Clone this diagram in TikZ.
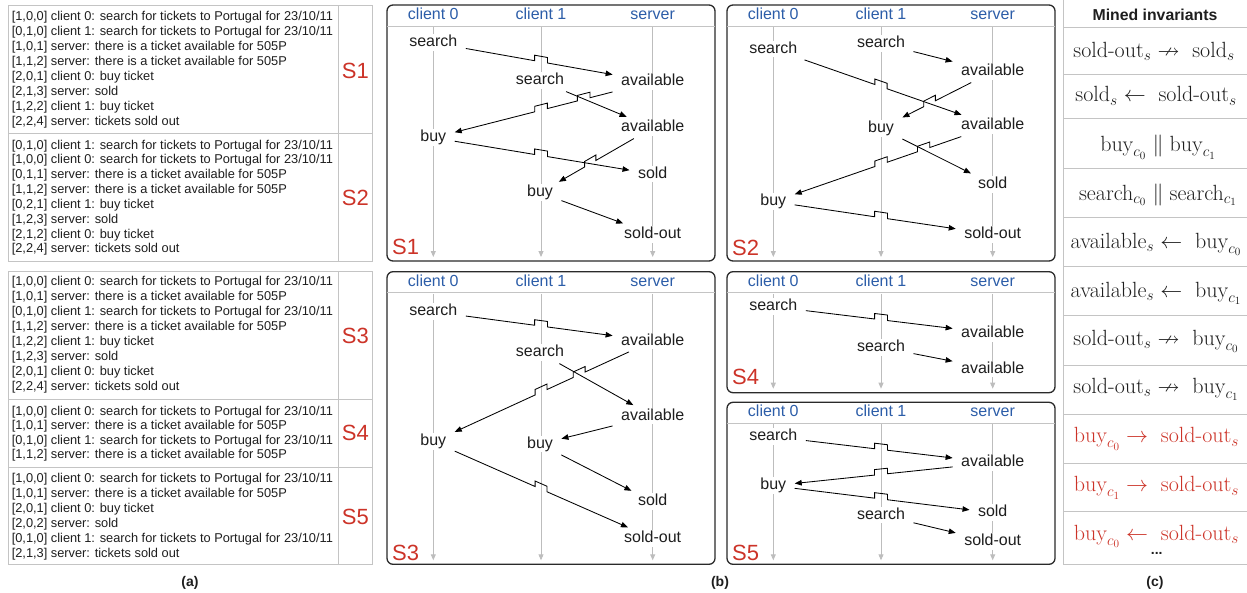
\RequirePackage{fix-cm}
\documentclass[tikz,border=0pt]{standalone}
\usepackage{amssymb}
\usepackage{fontspec}
\newfontfamily\arial{Liberation Sans}
\usetikzlibrary{calc,arrows.meta}
\definecolor{sred}{HTML}{CC3328}
\definecolor{hblue}{HTML}{2C5DA8}
\definecolor{lgray}{HTML}{BDBDBD}
\definecolor{tgray}{HTML}{C4C4C4}
\definecolor{boxc}{HTML}{2A2A2A}
\definecolor{txt}{HTML}{1E1E1E}
\tikzset{
  ev/.style={font=\arial\fontsize{16}{18}\selectfont, text=txt, fill=white, inner sep=1pt,
    outer xsep=7.5pt, outer ysep=2.5pt, text height=11.5pt, text depth=3.3pt},
  hd/.style={font=\arial\fontsize{16}{18}\selectfont, text=hblue, inner sep=4pt,
    text height=11.5pt, text depth=3.3pt},
  slab/.style={font=\arial\fontsize{22}{24}\selectfont, text=sred, inner sep=0},
  logl/.style={font=\arial\fontsize{12.8}{15}\selectfont, text=txt, anchor=base west, inner sep=0},
  msg/.style={draw=black, line width=0.85pt, -{Triangle[length=7pt,width=5.5pt]}},
  life/.style={draw=lgray, line width=0.9pt, -{Triangle[length=6pt,width=5pt]}},
  box/.style={draw=boxc, line width=1.3pt, rounded corners=6pt},
  hline/.style={draw=tgray, line width=1pt},
  tline/.style={draw=tgray, line width=1pt},
  captxt/.style={font=\arial\bfseries\fontsize{14}{16}\selectfont, text=txt},
  inv/.style={anchor=base, font=\fontsize{22}{25}\selectfont, inner sep=0, text=txt},
  rinv/.style={inv, text=sred}
}
\newcommand{\seqframe}[4]{%
  \draw[box] (387+#2,#3) rectangle (715+#2,#4);
  \draw[hline] (387+#2,#3+21) -- (715+#2,#3+21);
  \node[hd] (#1h0) at (433.3+#2,#3+10.5) {client 0};
  \node[hd] (#1h1) at (541+#2,#3+10.5) {client 1};
  \node[hd] (#1h2) at (652.7+#2,#3+10.5) {server};
  \coordinate (#1e0) at (433.3+#2,#4-4);
  \coordinate (#1e1) at (541+#2,#4-4);
  \coordinate (#1e2) at (652.7+#2,#4-4);
  \draw[life] (#1h0) -- (#1e0);
  \draw[life] (#1h1) -- (#1e1);
  \draw[life] (#1h2) -- (#1e2);
}
\newcommand{\mj}[3]{%
  \draw[msg] (#1)
    -- ($(#1)!#3!(#2)!6.5pt!(#1)$)
    -- ($(#1)!#3!(#2)!6.5pt!(#1)+(0,-5.5)$)
    -- ($(#1)!#3!(#2)!6.5pt!(#2)+(0,-5.5)$)
    -- ($(#1)!#3!(#2)!6.5pt!(#2)$)
    -- (#2);}
\newcommand{\mjj}[4]{%
  \draw[msg] (#1)
    -- ($(#1)!#3!(#2)!6.5pt!(#1)$)
    -- ($(#1)!#3!(#2)!6.5pt!(#1)+(0,-5.5)$)
    -- ($(#1)!#3!(#2)!6.5pt!(#2)+(0,-5.5)$)
    -- ($(#1)!#3!(#2)!6.5pt!(#2)$)
    -- ($(#1)!#4!(#2)!6.5pt!(#1)$)
    -- ($(#1)!#4!(#2)!6.5pt!(#1)+(0,-5.5)$)
    -- ($(#1)!#4!(#2)!6.5pt!(#2)+(0,-5.5)$)
    -- ($(#1)!#4!(#2)!6.5pt!(#2)$)
    -- (#2);}
\newcommand{\logblock}[4]{%
  \foreach \t [count=\i] in {#4} {\node[logl] (#1\i) at (11.6,#2+#3*\i-#3) {\t};}}
\begin{document}
\begin{tikzpicture}[x=1pt,y=-1pt]
\useasboundingbox (0,0) rectangle (1247,592);
% ---------- panel (a)
\draw[tline] (8.3,5) rectangle (372.3,261);
\draw[tline] (338.3,5) -- (338.3,261);
\draw[tline] (8.3,133) -- (372.3,133);
\draw[tline] (8.3,271) rectangle (372.3,564);
\draw[tline] (338.3,271) -- (338.3,564);
\draw[tline] (8.3,399) -- (372.3,399);
\draw[tline] (8.3,467) -- (372.3,467);
\logblock{la}{20}{15}{{[1,0,0] client 0: search for tickets to Portugal for 23/10/11},{[0,1,0] client 1: search for tickets to Portugal for 23/10/11},{[1,0,1] server: there is a ticket available for 505P},{[1,1,2] server: there is a ticket available for 505P},{[2,0,1] client 0: buy ticket},{[2,1,3] server: sold},{[1,2,2] client 1: buy ticket},{[2,2,4] server: tickets sold out}}
\logblock{lb}{149}{14.85}{{[0,1,0] client 1: search for tickets to Portugal for 23/10/11},{[1,0,0] client 0: search for tickets to Portugal for 23/10/11},{[0,1,1] server: there is a ticket available for 505P},{[1,1,2] server: there is a ticket available for 505P},{[0,2,1] client 1: buy ticket},{[1,2,3] server: sold},{[2,1,2] client 0: buy ticket},{[2,2,4] server: tickets sold out}}
\logblock{lc}{285}{15.1}{{[1,0,0] client 0: search for tickets to Portugal for 23/10/11},{[1,0,1] server: there is a ticket available for 505P},{[0,1,0] client 1: search for tickets to Portugal for 23/10/11},{[1,1,2] server: there is a ticket available for 505P},{[1,2,2] client 1: buy ticket},{[1,2,3] server: sold},{[2,0,1] client 0: buy ticket},{[2,2,4] server: tickets sold out}}
\logblock{ld}{415}{14.5}{{[1,0,0] client 0: search for tickets to Portugal for 23/10/11},{[1,0,1] server: there is a ticket available for 505P},{[0,1,0] client 1: search for tickets to Portugal for 23/10/11},{[1,1,2] server: there is a ticket available for 505P}}
\logblock{le}{482.3}{15}{{[1,0,0] client 0: search for tickets to Portugal for 23/10/11},{[1,0,1] server: there is a ticket available for 505P},{[2,0,1] client 0: buy ticket},{[2,0,2] server: sold},{[0,1,0] client 1: search for tickets to Portugal for 23/10/11},{[2,1,3] server: tickets sold out}}
\node[slab] (ls1) at (355.3,71) {S1};
\node[slab] (ls2) at (355.3,198) {S2};
\node[slab] (ls3) at (355.3,336) {S3};
\node[slab] (ls4) at (355.3,433) {S4};
\node[slab] (ls5) at (355.3,517) {S5};
\node[captxt] (capa) at (190,583) {(a)};
% ---------- panel (b): frames
\seqframe{f1}{0}{5}{261}
\seqframe{f2}{340}{5}{261}
\seqframe{f3}{0}{271.7}{564.3}
\seqframe{f4}{340}{271.7}{392.7}
\seqframe{f5}{340}{402.3}{564.3}
\node[slab, anchor=west] (bs1) at (392,247) {S1};
\node[slab, anchor=west] (bs2) at (732,248) {S2};
\node[slab, anchor=west] (bs3) at (392,552.5) {S3};
\node[slab, anchor=west] (bs4) at (732,377.3) {S4};
\node[slab, anchor=west] (bs5) at (732,552.5) {S5};
% S1
\node[ev] (a1) at (433.3,42.7) {search};
\node[ev] (a2) at (540,80.7) {search};
\node[ev] (a3) at (652.7,81.7) {available};
\node[ev] (a4) at (652.7,127.7) {available};
\node[ev] (a5) at (433.3,137.7) {buy};
\node[ev] (a6) at (652.7,174) {sold};
\node[ev] (a7) at (540,192.7) {buy};
\node[ev] (a8) at (652.7,234.3) {sold-out};
\mj{a1}{a3}{0.491}
\mjj{a3}{a5}{0.3145}{0.509}
\draw[msg] (a2) -- (a4);
\mj{a4}{a7}{0.554}
\mj{a5}{a6}{0.491}
\draw[msg] (a7) -- (a8);
% S2
\node[ev] (b1) at (773.3,49) {search};
\node[ev] (b2) at (881,43.3) {search};
\node[ev] (b3) at (992.7,71.7) {available};
\node[ev] (b4) at (881,128.3) {buy};
\node[ev] (b5) at (992.7,125.7) {available};
\node[ev] (b6) at (992.7,184.3) {sold};
\node[ev] (b7) at (773.3,201.7) {buy};
\node[ev] (b8) at (992.7,234.3) {sold-out};
\draw[msg] (b2) -- (b3);
\mj{b1}{b5}{0.491}
\mj{b3}{b4}{0.565}
\mjj{b5}{b7}{0.315}{0.509}
\draw[msg] (b4) -- (b6);
\mj{b7}{b8}{0.491}
% S3
\node[ev] (c1) at (433.3,311.7) {search};
\node[ev] (c2) at (652.7,341) {available};
\node[ev] (c3) at (540,352.7) {search};
\node[ev] (c4) at (652.7,416) {available};
\node[ev] (c5) at (433.3,441.7) {buy};
\node[ev] (c6) at (540,444) {buy};
\node[ev] (c7) at (652.7,501.7) {sold};
\node[ev] (c8) at (652.7,538.3) {sold-out};
\mj{c1}{c2}{0.491}
\mjj{c2}{c5}{0.335}{0.509}
\draw[msg] (c3) -- (c4);
\draw[msg] (c4) -- (c6);
\draw[msg] (c6) -- (c7);
\mj{c5}{c8}{0.491}
% S4
\node[ev] (d1) at (773.3,306.7) {search};
\node[ev] (d2) at (992.7,333.3) {available};
\node[ev] (d3) at (881,347.3) {search};
\node[ev] (d4) at (992.7,369) {available};
\mj{d1}{d2}{0.491}
\draw[msg] (d3) -- (d4);
% S5
\node[ev] (e1) at (773.3,436.7) {search};
\node[ev] (e2) at (992.7,462.7) {available};
\node[ev] (e3) at (773.3,485.7) {buy};
\node[ev] (e4) at (992.7,512.7) {sold};
\node[ev] (e5) at (881,515) {search};
\node[ev] (e6) at (992.7,541.7) {sold-out};
\mj{e1}{e2}{0.491}
\mj{e2}{e3}{0.509}
\mj{e3}{e4}{0.491}
\draw[msg] (e5) -- (e6);
\node[captxt] (capb) at (720,583) {(b)};
% ---------- panel (c)
\draw[tline] (1063.3,0) -- (1063.3,564);
\foreach \yy in {27.3,74,118.3,168.3,217.3,266.7,315,365,414,463.3,511.7,564}
  \draw[tline] (1063.3,\yy) -- (1247,\yy);
\node[font=\arial\bfseries\fontsize{15.8}{18}\selectfont, text=txt] (mh) at (1155,15) {Mined invariants};
\node[inv] (i1) at (1154,57.3) {$\textrm{sold-out}_s \nrightarrow\ \textrm{sold}_s$};
\node[inv] (i2) at (1156,101.7) {$\textrm{sold}_s \leftarrow\ \textrm{sold-out}_s$};
\node[inv] (i3) at (1158,151.7) {$\textrm{buy}_{c_0} \parallel \textrm{buy}_{c_1}$};
\node[inv] (i4) at (1158,200) {$\textrm{search}_{c_0} \parallel \textrm{search}_{c_1}$};
\node[inv] (i5) at (1156,248.3) {$\textrm{available}_s \leftarrow\ \textrm{buy}_{c_0}$};
\node[inv] (i6) at (1156,297) {$\textrm{available}_s \leftarrow\ \textrm{buy}_{c_1}$};
\node[inv] (i7) at (1156,345) {$\textrm{sold-out}_s \nrightarrow\ \textrm{buy}_{c_0}$};
\node[inv] (i8) at (1156,393.3) {$\textrm{sold-out}_s \nrightarrow\ \textrm{buy}_{c_1}$};
\node[rinv] (i9) at (1156.5,442.7) {$\textrm{buy}_{c_0} \rightarrow\ \textrm{sold-out}_s$};
\node[rinv] (i10) at (1156.5,491.7) {$\textrm{buy}_{c_1} \rightarrow\ \textrm{sold-out}_s$};
\node[rinv] (i11) at (1156.5,540) {$\textrm{buy}_{c_0} \leftarrow\ \textrm{sold-out}_s$};
\node[captxt] (dots) at (1156.7,553.5) {...};
\node[captxt] (capc) at (1155,583) {(c)};
\end{tikzpicture}
\end{document}
